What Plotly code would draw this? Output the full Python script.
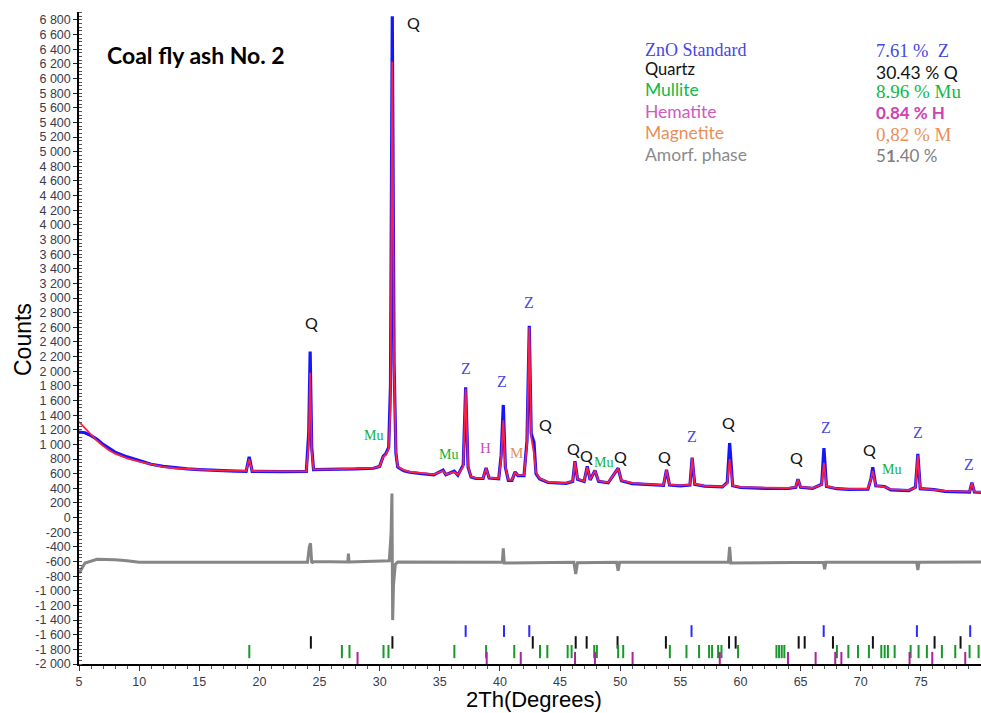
import plotly.graph_objects as go

# ---- Observed / calculated powder pattern (2-theta in degrees, counts) ----
two_theta = [
    5.0, 5.5, 6.0, 6.5, 7.0, 7.5, 8.0, 9.0, 10.0, 11.0,
    12.0, 13.0, 14.0, 15.0, 16.0, 17.0, 18.0, 18.9, 19.15, 19.4,
    20.0, 22.0, 23.9, 24.1, 24.22, 24.35, 24.5, 26.0, 27.0, 28.0,
    29.5, 30.0, 30.3, 30.5, 30.75, 30.9, 31.05, 31.2, 31.35, 31.5,
    32.0, 32.5, 33.5, 34.5, 35.27, 35.5, 36.2, 36.5, 36.95, 37.15,
    37.35, 37.6, 38.0, 38.6, 38.85, 39.1, 39.9, 40.1, 40.28, 40.45,
    40.7, 41.0, 41.26, 41.5, 42.0, 42.25, 42.44, 42.6, 42.83, 43.0,
    43.3, 44.0, 45.5, 46.05, 46.24, 46.45, 47.0, 47.26, 47.5, 47.9,
    48.2, 49.0, 49.83, 50.1, 51.0, 52.5, 53.6, 53.85, 54.1, 55.0,
    55.8, 55.98, 56.2, 57.0, 58.5, 58.9, 59.1, 59.35, 60.0, 62.0,
    64.0, 64.6, 64.78, 65.0, 66.0, 66.75, 66.94, 67.15, 68.0, 69.0,
    70.6, 70.85, 71.0, 71.25, 71.98, 72.5, 74.0, 74.55, 74.75, 74.95,
    76.1, 77.0, 79.05, 79.24, 79.45, 80.0,
]
calc_counts = [
    1310, 1220, 1130, 1050, 980, 920, 875, 810, 765, 725,
    695, 675, 663, 655, 648, 643, 640, 638, 800, 638,
    636, 632, 632, 1000, 1980, 900, 660, 660, 665, 668,
    680, 700, 830, 860, 940, 1500, 6230, 2000, 900, 700,
    650, 627, 605, 590, 640, 590, 625, 585, 700, 1760,
    700, 560, 540, 540, 670, 545, 535, 800, 1330, 700,
    515, 515, 615, 580, 580, 1000, 2600, 1100, 880, 620,
    537, 485, 472, 500, 760, 530, 500, 690, 520, 640,
    500, 480, 670, 510, 470, 452, 445, 650, 450, 440,
    450, 815, 460, 435, 425, 470, 800, 440, 418, 410,
    405, 420, 520, 420, 405, 450, 750, 430, 400, 390,
    395, 520, 640, 440, 420, 385, 375, 410, 850, 400,
    385, 365, 355, 470, 355, 350,
]
obs_counts = [
    1170, 1160, 1120, 1070, 1000, 945, 895, 830, 775, 730,
    700, 680, 665, 655, 645, 640, 635, 632, 830, 632,
    630, 628, 630, 1150, 2270, 960, 655, 655, 660, 665,
    675, 700, 840, 870, 960, 1800, 6850, 2100, 880, 690,
    640, 620, 600, 585, 650, 585, 635, 580, 720, 1780,
    690, 555, 535, 535, 680, 540, 530, 850, 1540, 690,
    510, 510, 625, 575, 575, 1050, 2620, 1150, 1030, 600,
    530, 480, 468, 495, 770, 525, 495, 700, 515, 645,
    495, 475, 675, 505, 465, 448, 440, 655, 445, 435,
    445, 820, 455, 430, 420, 480, 1020, 435, 412, 400,
    398, 415, 525, 415, 400, 455, 950, 425, 395, 385,
    390, 530, 690, 435, 425, 380, 370, 415, 870, 395,
    382, 360, 350, 478, 350, 345,
]

# ---- Difference curve (offset) ----
diff_2theta = [
    5.0, 5.2, 5.5, 6.5, 8.0, 9.0, 10.0,
    24.0, 24.15, 24.25, 24.35, 24.5,
    27.35, 27.4, 27.45,
    30.8, 30.95, 31.02, 31.08, 31.15, 31.3, 31.5,
    40.2, 40.28, 40.36,
    46.15, 46.3, 46.45,
    49.7, 49.83, 49.95,
    59.0, 59.1, 59.2,
    66.9, 67.0, 67.1,
    74.65, 74.75, 74.85,
    80.0,
]
diff_counts = [
    -760, -700, -620, -570, -575, -590, -610,
    -610, -400, -350, -620, -600,
    -605, -490, -605,
    -590, -210, 330, -1400, -920, -640, -605,
    -610, -420, -620,
    -610, -770, -615,
    -610, -725, -610,
    -605, -400, -620,
    -610, -705, -610,
    -610, -715, -610,
    -605,
]

# ---- Reflection positions of each phase ----
zno_refl = [37.15, 40.34, 42.44, 55.93, 66.92, 74.67, 79.1]
quartz_refl = [24.28, 31.06, 42.73, 46.3, 47.21, 49.78, 53.8, 59.05, 59.6,
               64.84, 65.34, 67.69, 71.01, 76.14, 78.3]
mullite_refl = [19.16, 26.86, 27.49, 30.32, 30.73, 36.21, 38.85, 41.19, 43.33,
                43.94, 45.63, 45.96, 47.84, 48.06, 49.83, 50.25, 54.13, 55.51,
                56.56, 57.39, 57.64, 58.14, 58.42, 59.8, 62.99, 63.21, 63.43,
                63.65, 68.02, 68.97, 69.77, 70.68, 71.71, 71.99, 72.26, 72.82,
                74.15, 74.81, 75.5, 76.75, 77.86, 79.05, 79.8]
hematite_refl = [28.16, 38.9, 41.73, 46.24, 47.9, 51.03, 58.28, 63.95, 66.25,
                 67.88, 68.39, 74.06, 75.95, 78.69]

# ---- Peak assignments ----
peak_text = ["Q", "Q", "Mu", "Mu", "Z", "H", "Z", "M", "Z", "Q", "Q", "Q", "Mu",
             "Q", "Q", "Z", "Q", "Q", "Z", "Q", "Mu", "Z", "Z"]
peak_2theta = [32.78, 24.31, 29.46, 35.69, 37.18, 38.8, 40.15, 41.36, 42.4, 43.75,
               46.1, 47.17, 48.65, 50.05, 53.68, 55.94, 58.97, 64.69, 67.07,
               70.75, 72.56, 74.73, 78.97]
peak_counts = [6771, 2673, 1120, 860, 2044, 951, 1860, 883, 2940, 1270,
               940, 845, 755, 832, 842, 1115, 1295, 818, 1228,
               925, 651, 1160, 720]

# ---- Quantitative phase analysis ----
phase_names = ["ZnO Standard", "Quartz", "Mullite", "Hematite", "Magnetite", "Amorf. phase"]
phase_results = ["7.61 %  Z", "30.43 % Q", "8.96 % Mu", "<b>0.84 % H</b>", "0,82 % M",
                 "5<b>1</b>.40 %"]

W, H = 981, 713
ML, MR, MT, MB = 79, 0, 12, 49
X_RANGE = [5, 80]
Y_RANGE = [-2000, 6909]


def px_x(px):
    return (px - ML) / (W - ML - MR)


def px_y(py):
    return (H - MB - py) / (H - MT - MB)


SERIF = "Liberation Serif"
SANS = "Liberation Sans"
CAL = "Lato"

fig = go.Figure()

fig.add_trace(go.Scatter(x=two_theta, y=obs_counts, mode="lines",
                         line=dict(color="#1414ff", width=3.2), hoverinfo="skip"))
fig.add_trace(go.Scatter(x=two_theta, y=calc_counts, mode="lines",
                         line=dict(color="#ff1f46", width=1.8), hoverinfo="skip"))
fig.add_trace(go.Scatter(x=diff_2theta, y=diff_counts, mode="lines",
                         line=dict(color="#868686", width=3), hoverinfo="skip"))

# reflection bars, one row per phase
rows = [
    (zno_refl, -1470, -1630, "#2a2aff"),
    (quartz_refl, -1620, -1790, "#111111"),
    (mullite_refl, -1740, -1920, "#159a2a"),
    (hematite_refl, -1835, -2000, "#b0209c"),
]
for refl, y0, y1, col in rows:
    xs, ys = [], []
    for r in refl:
        xs += [r, r, None]
        ys += [y0, y1, None]
    fig.add_trace(go.Scatter(x=xs, y=ys, mode="lines", line=dict(color=col, width=2),
                             hoverinfo="skip", cliponaxis=False))

annotations = []

label_style = {
    "Q": dict(family=CAL, size=16, color="#111111"),
    "Z": dict(family=SERIF, size=16, color="#4848e8"),
    "Mu": dict(family=SERIF, size=14, color="#10b040"),
    "H": dict(family=SERIF, size=15, color="#c850b8"),
    "M": dict(family=SERIF, size=15, color="#e0905a"),
}
for t, x, y in zip(peak_text, peak_2theta, peak_counts):
    annotations.append(dict(x=x, y=y, xref="x", yref="y", text=t, showarrow=False,
                            font=label_style[t], xanchor="center", yanchor="middle"))

name_styles = [
    (dict(family=SERIF, size=18, color="#4646e6"), 50.0),
    (dict(family=CAL, size=16.5, color="#111111"), 68.5),
    (dict(family=CAL, size=17.5, color="#10b848"), 89.5),
    (dict(family=CAL, size=17.5, color="#d058c0"), 111.0),
    (dict(family=CAL, size=17.5, color="#e89058"), 132.7),
    (dict(family=CAL, size=17.5, color="#8a8a8a"), 155.0),
]
result_styles = [
    (dict(family=SERIF, size=18.5, color="#4646e6"), 51.0),
    (dict(family=CAL, size=17.5, color="#111111"), 72.7),
    (dict(family=SERIF, size=19, color="#10b848"), 92.0),
    (dict(family=CAL, size=17, color="#d040b4"), 112.7),
    (dict(family=SERIF, size=19, color="#e89058"), 134.5),
    (dict(family=CAL, size=17, color="#808080"), 156.0),
]
for name, (font, py) in zip(phase_names, name_styles):
    annotations.append(dict(x=px_x(643), y=px_y(py), xref="paper", yref="paper", text=name,
                            showarrow=False, font=font, xanchor="left", yanchor="middle"))
for res, (font, py) in zip(phase_results, result_styles):
    annotations.append(dict(x=px_x(874), y=px_y(py), xref="paper", yref="paper", text=res,
                            showarrow=False, font=font, xanchor="left", yanchor="middle"))

annotations.append(dict(x=px_x(105), y=px_y(55), xref="paper", yref="paper",
                        text="<b>Coal fly ash No. 2</b>", showarrow=False,
                        font=dict(family=CAL, size=23, color="#000000"),
                        xanchor="left", yanchor="middle"))
annotations.append(dict(x=px_x(23), y=px_y(340), xref="paper", yref="paper", text="Counts",
                        textangle=-90, showarrow=False,
                        font=dict(family=SANS, size=23, color="#000000"),
                        xanchor="center", yanchor="middle"))
annotations.append(dict(x=px_x(534), y=px_y(699), xref="paper", yref="paper",
                        text="2Th(Degrees)", showarrow=False,
                        font=dict(family=SANS, size=22, color="#000000"),
                        xanchor="center", yanchor="middle"))

y_ticks = list(range(-2000, 6801, 200))
y_tick_text = [f"{v:,}".replace(",", " ") for v in y_ticks]
x_ticks = [5, 10, 15, 20, 25, 30, 35, 40, 45, 50, 55, 60, 65, 70, 75]

fig.update_layout(
    width=W, height=H,
    margin=dict(l=ML, r=MR, t=MT, b=MB, pad=0),
    paper_bgcolor="white", plot_bgcolor="white",
    showlegend=False,
    annotations=annotations,
    xaxis=dict(
        range=X_RANGE, showgrid=False, zeroline=False,
        showline=True, linecolor="#000000", linewidth=1.5,
        tickmode="array", tickvals=x_ticks, ticktext=[str(v) for v in x_ticks],
        ticks="outside", ticklen=5, tickwidth=1, tickcolor="#333333",
        tickfont=dict(family=SANS, size=12.5, color="#3a3a4c"),
        minor=dict(dtick=1, ticks="outside", ticklen=3, tickcolor="#555555", showgrid=False),
    ),
    yaxis=dict(
        range=Y_RANGE, showgrid=False, zeroline=False,
        showline=True, linecolor="#000000", linewidth=1.5,
        tickmode="array", tickvals=y_ticks, ticktext=y_tick_text,
        ticks="outside", ticklen=4, tickwidth=1.2, tickcolor="#222222",
        tickfont=dict(family=SANS, size=12.5, color="#3a3a4c"),
        minor=dict(dtick=50, ticks="inside", ticklen=3, tickcolor="#555555", showgrid=False),
    ),
)

fig.write_html("out.html")
